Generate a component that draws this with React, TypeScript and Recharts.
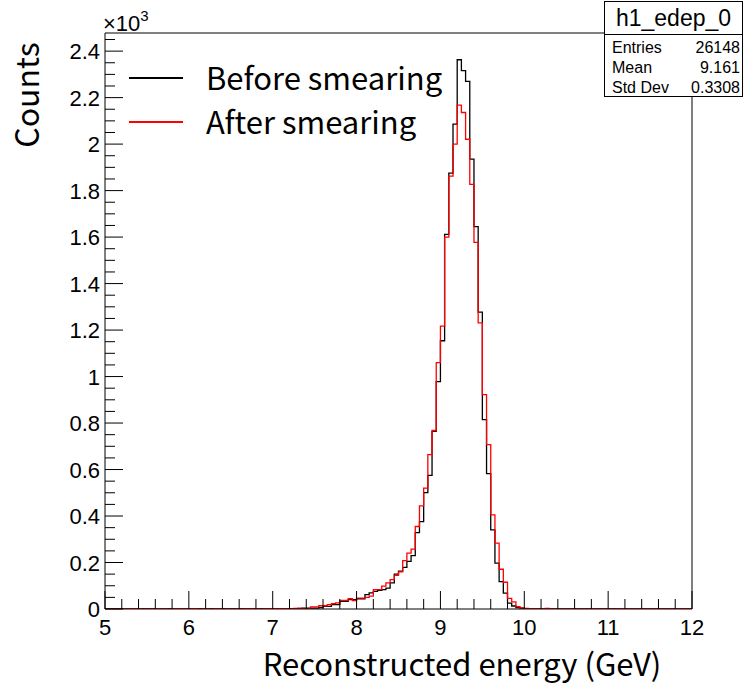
import { ComposedChart, Line, XAxis, YAxis, ReferenceLine } from "recharts";

// histogram: 140 bins of 0.05 GeV from 5 to 12
const xMin = 5;
const binWidth = 0.05;

const beforeCounts = [
  0, 0, 0, 0, 0, 0, 0, 0, 0, 1,
  0, 1, 0, 0, 0, 1, 0, 0, 0, 0,
  0, 0, 1, 0, 0, 1, 0, 0, 1, 0,
  1, 0, 1, 0, 0, 0, 0, 1, 0, 0,
  1, 0, 0, 2, 1, 2, 3, 4, 4, 4,
  4, 6, 11, 11, 19, 19, 33, 33, 40, 40,
  44, 44, 62, 69, 76, 80, 83, 90, 112, 150,
  163, 179, 205, 230, 329, 376, 501, 575, 764, 978,
  1154, 1612, 1875, 2086, 2363, 2316, 2270, 1935, 1645, 1277,
  815, 582, 340, 197, 118, 68, 25, 13, 6, 4,
  2, 1, 1, 0, 0, 0, 0, 0, 0, 0,
  0, 0, 0, 0, 0, 0, 0, 0, 0, 0,
  0, 0, 0, 0, 0, 0, 0, 0, 0, 0,
  0, 0, 0, 0, 0, 0, 0, 0, 0, 0,
];

const afterCounts = [
  0, 0, 1, 0, 0, 0, 1, 0, 0, 0,
  0, 0, 1, 0, 0, 0, 0, 1, 0, 0,
  0, 1, 0, 0, 0, 0, 1, 0, 0, 0,
  0, 0, 0, 1, 0, 1, 0, 0, 1, 1,
  1, 1, 2, 2, 2, 3, 3, 2, 2, 9,
  9, 14, 14, 19, 23, 26, 37, 37, 44, 36,
  47, 47, 50, 55, 83, 83, 98, 112, 126, 145,
  160, 208, 240, 258, 355, 444, 520, 664, 768, 1060,
  1217, 1600, 1862, 2000, 2168, 2136, 2021, 1827, 1577, 1231,
  922, 707, 405, 283, 171, 115, 46, 31, 10, 5,
  3, 2, 1, 0, 0, 3, 0, 0, 0, 0,
  0, 0, 0, 0, 0, 0, 0, 0, 0, 0,
  0, 0, 0, 0, 0, 0, 0, 0, 0, 0,
  0, 0, 0, 0, 0, 0, 0, 0, 0, 0,
];

const xMajorTicks = [5, 6, 7, 8, 9, 10, 11, 12];
const yMajorTicks = [0, 200, 400, 600, 800, 1000, 1200, 1400, 1600, 1800, 2000, 2200, 2400];
const yMax = 2478;

const statsTitle = "h1_edep_0";
const statsRows = [
  ["Entries", "26148"],
  ["Mean", "9.161"],
  ["Std Dev", "0.3308"],
];
const legendItems = [
  { label: "Before smearing", color: "#000000" },
  { label: "After smearing", color: "#ff0000" },
];

// one point per bin edge, last edge repeats the last bin so stepAfter closes it
const data = Array.from({ length: beforeCounts.length + 1 }, (_, i) => {
  const k = Math.min(i, beforeCounts.length - 1);
  return {
    x: Math.round((xMin + i * binWidth) * 1000) / 1000,
    before: beforeCounts[k],
    after: afterCounts[k],
  };
});

// 5 minor divisions per unit on x, 4 per label on y
const xTicks: number[] = [];
for (let i = 0; i < xMajorTicks.length - 1; i++) {
  for (let j = 0; j < 5; j++) xTicks.push(Math.round((xMajorTicks[i] + j * 0.2) * 10) / 10);
}
xTicks.push(xMajorTicks[xMajorTicks.length - 1]);

const yTicks: number[] = [];
for (let v = 0; v <= yMax; v += 50) yTicks.push(v);

const tickFont = "'Liberation Sans', Arial, sans-serif";
const titleFont = "'Noto Sans CJK KR', 'Noto Sans', sans-serif";

function XTick(props: any) {
  const { x, y, payload } = props;
  const v = payload.value as number;
  const major = xMajorTicks.includes(v);
  return (
    <g>
      <line x1={x} x2={x} y1={y} y2={y - (major ? 18 : 10)} stroke="#000" strokeWidth={1} />
      {major && (
        <text x={x} y={y + 26} textAnchor="middle" fontSize={22} fontFamily={tickFont} fill="#000">
          {v}
        </text>
      )}
    </g>
  );
}

function YTick(props: any) {
  const { x, y, payload } = props;
  const v = payload.value as number;
  const major = yMajorTicks.includes(v);
  return (
    <g>
      <line x1={x} x2={x + (major ? 18 : 10)} y1={y} y2={y} stroke="#000" strokeWidth={1} />
      {major && (
        <text x={x - 5} y={y + 8} textAnchor="end" fontSize={22} fontFamily={tickFont} fill="#000">
          {parseFloat((v / 1000).toFixed(1))}
        </text>
      )}
    </g>
  );
}

export default function App() {
  return (
    <div style={{ position: "absolute", left: 0, top: 0, width: 746, height: 685, background: "#fff" }}>
      <ComposedChart
        width={746}
        height={685}
        data={data}
        margin={{ top: 33, right: 54, bottom: 46, left: 45 }}
      >
        <XAxis
          dataKey="x"
          type="number"
          domain={[5, 12]}
          ticks={xTicks}
          interval={0}
          tick={XTick}
          tickLine={false}
          tickSize={0}
          tickMargin={0}
          height={30}
          axisLine={{ stroke: "#000" }}
          allowDataOverflow
        />
        <YAxis
          type="number"
          domain={[0, yMax]}
          ticks={yTicks}
          interval={0}
          tick={YTick}
          tickLine={false}
          tickSize={0}
          tickMargin={0}
          width={60}
          axisLine={{ stroke: "#000" }}
          allowDataOverflow
        />
        <ReferenceLine y={yMax} stroke="#000" ifOverflow="visible" />
        <ReferenceLine x={12} stroke="#000" ifOverflow="visible" />
        <Line
          dataKey="before"
          type="stepAfter"
          stroke="#000000"
          strokeWidth={1.3}
          dot={false}
          isAnimationActive={false}
        />
        <Line
          dataKey="after"
          type="stepAfter"
          stroke="#ff0000"
          strokeWidth={1.3}
          dot={false}
          isAnimationActive={false}
        />
      </ComposedChart>

      {/* legend, axis titles, ×10³ exponent */}
      <svg style={{ position: "absolute", left: 0, top: 0 }} width={746} height={685} pointerEvents="none">
        <text x={103} y={31} fontSize={22} fontFamily={tickFont} fill="#000">
          ×10
          <tspan fontSize={15} dy={-10}>3</tspan>
        </text>
        {legendItems.map((item, i) => (
          <g key={item.label}>
            <line x1={129} x2={183} y1={78 + i * 44} y2={78 + i * 44} stroke={item.color} strokeWidth={2} />
            <text
              x={206}
              y={78 + i * 44 + 12}
              fontSize={31}
              fontFamily={titleFont}
              fill="#000"
            >
              {item.label}
            </text>
          </g>
        ))}
        <text x={462} y={676} textAnchor="middle" fontSize={31} fontFamily={titleFont} fill="#000">
          Reconstructed energy (GeV)
        </text>
        <text
          x={0}
          y={0}
          transform="translate(39, 95) rotate(-90)"
          textAnchor="middle"
          fontSize={32}
          fontFamily={titleFont}
          fill="#000"
        >
          Counts
        </text>
      </svg>

      {/* stats box */}
      <div
        style={{
          position: "absolute",
          left: 604,
          top: 1,
          width: 139,
          height: 96,
          border: "1px solid #000",
          background: "#fff",
          fontFamily: tickFont,
          boxSizing: "border-box",
        }}
      >
        <div
          style={{
            height: 32,
            borderBottom: "1px solid #000",
            fontSize: 23,
            lineHeight: "32px",
            textAlign: "center",
          }}
        >
          {statsTitle}
        </div>
        <div style={{ paddingTop: 3 }}>
          {statsRows.map(([k, v]) => (
            <div
              key={k}
              style={{
                display: "flex",
                justifyContent: "space-between",
                fontSize: 16,
                height: 20,
                lineHeight: "20px",
                padding: "0 2px 0 7px",
              }}
            >
              <span>{k}</span>
              <span>{v}</span>
            </div>
          ))}
        </div>
      </div>
    </div>
  );
}
